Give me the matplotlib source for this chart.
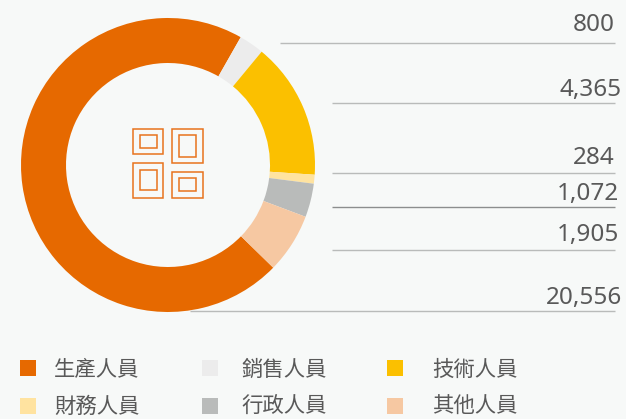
#!/usr/bin/env python3
import matplotlib; matplotlib.use('Agg')
import matplotlib.pyplot as plt
from matplotlib.patches import Rectangle

labels = ['生產人員', '銷售人員', '技術人員', '財務人員', '行政人員', '其他人員']
values = [20556, 800, 4365, 284, 1072, 1905]
colors = ['#e66900', '#ececec', '#fbc000', '#ffe3a0', '#b9bbba', '#f6c8a2']
# numbers on the right, top to bottom
num_text = ['800', '4,365', '284', '1,072', '1,905', '20,556']

BG = '#f7f9f8'; GREY = '#595959'; H = 419
fig = plt.figure(figsize=(6.26, 4.19), dpi=100, facecolor=BG)
ax = fig.add_axes([0, 0, 1, 1]); ax.set_facecolor(BG)

# donut, starts so the orange slice ends at about 60 deg
ax.pie(values, colors=colors, center=(168, H-165), radius=147, startangle=315.7, counterclock=False,
       wedgeprops=dict(width=45, linewidth=0))
ax.set_xlim(0, 626); ax.set_ylim(0, H); ax.set_aspect('equal'); ax.axis('off')

# leader lines + numbers (pixel layout)
line_y = [43, 103, 173, 207, 250.5, 311]
line_x0 = [280, 332, 332, 332, 332, 190]
text_x = [615, 622, 615, 619, 619, 622]
text_y = [31, 96, 164, 200, 241, 304]
line_c = ['#b9bbba', '#b9bbba', '#b9bbba', '#8c8e8e', '#b9bbba', '#b9bbba']
for s, y, x0, tx, ty, c in zip(num_text, line_y, line_x0, text_x, text_y, line_c):
    ax.plot([x0, 615], [H-y, H-y], color=c, lw=1.0, zorder=1, solid_capstyle='butt')
    ax.text(tx, H-ty, s, ha='right', va='baseline', fontsize=17.5, color=GREY, family='Noto Sans')

# centre icon: outer box, inner box
boxes = [((133, 129, 163, 154), (140, 135, 157, 148)),
         ((172, 129, 203, 163), (179, 135, 196, 157)),
         ((133, 163, 163, 198), (140, 170, 157, 190)),
         ((172, 172, 203, 198), (179, 178, 196, 191))]
for pair in boxes:
    for x0, y0, x1, y1 in pair:
        ax.add_patch(Rectangle((x0, H-y1), x1-x0, y1-y0, fill=False, ec='#e8731e', lw=1.1, zorder=4))

# legend
sq_x = [20, 202, 387]; txt_x = [54, 241, 432.5]; sq_y = [360, 398]; txt_y = [370, 407]
for i, (lab, c) in enumerate(zip(labels, colors)):
    r, k = divmod(i, 3)
    ax.add_patch(Rectangle((sq_x[k], H-sq_y[r]-16), 16, 16, fc=c, ec='none'))
    ax.text(txt_x[k], H-txt_y[r], lab, ha='left', va='center', fontsize=15.4, color=GREY,
            family=['Noto Sans CJK TC', 'DejaVu Sans'])

fig.savefig('out.png', dpi=100, facecolor=BG)
